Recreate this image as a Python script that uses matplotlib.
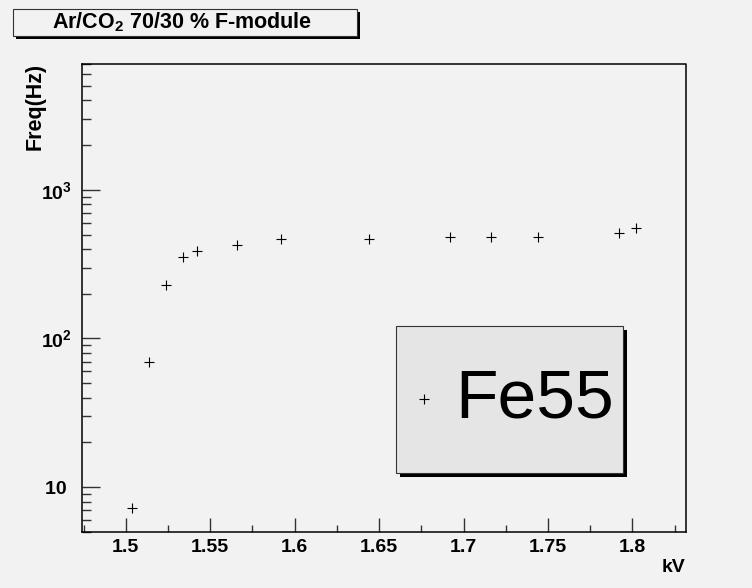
import numpy as np
import matplotlib
matplotlib.use('Agg')
import matplotlib.pyplot as plt
import matplotlib.ticker as mticker
from matplotlib.patches import Rectangle
from matplotlib.lines import Line2D

# Fe55 rate scan
kv = [1.504, 1.514, 1.524, 1.534, 1.542, 1.566, 1.592, 1.644,
      1.692, 1.716, 1.744, 1.792, 1.802]
freq = [7.2, 69, 228, 352, 386, 426, 465, 468,
        480, 480, 482, 513, 557]

title = r'Ar/CO$_2$ 70/30 % F-module'
legend_label = 'Fe55'
W, H = 752, 588
bg = '#f2f2f2'

matplotlib.rcParams['font.family'] = ['Liberation Sans', 'DejaVu Sans']
matplotlib.rcParams['mathtext.fontset'] = 'custom'
matplotlib.rcParams['mathtext.rm'] = 'Liberation Sans:bold'
matplotlib.rcParams['mathtext.bf'] = 'Liberation Sans:bold'
matplotlib.rcParams['mathtext.it'] = 'Liberation Sans:bold'
matplotlib.rcParams['mathtext.default'] = 'bf'


def fx(x):
    return x / W


def fy(y):
    return 1 - y / H


fig = plt.figure(figsize=(W / 100, H / 100), dpi=100, facecolor=bg)
ax = fig.add_axes([fx(82), fy(532), (686.3 - 82) / W, (532 - 63.5) / H])
ax.set_facecolor(bg)

ax.plot(kv, freq, linestyle='none', marker='+', color='black',
        markersize=6.5, markeredgewidth=0.8)

ax.set_yscale('log')
ax.set_xlim(1.4741, 1.8319)
ax.set_ylim(5.0, 7060)

ax.xaxis.set_major_locator(mticker.MultipleLocator(0.05))
ax.xaxis.set_minor_locator(mticker.MultipleLocator(0.025))
ax.xaxis.set_major_formatter(mticker.FormatStrFormatter('%g'))
ax.yaxis.set_major_locator(mticker.LogLocator(base=10))
ax.yaxis.set_minor_locator(mticker.LogLocator(base=10, subs=np.arange(2, 10)))
ax.yaxis.set_minor_formatter(mticker.NullFormatter())


def ylab(v, pos):
    e = int(round(np.log10(v)))
    if e == 1:
        return '10 '
    return r'$\mathbf{10^{%d}}$' % e


ax.yaxis.set_major_formatter(mticker.FuncFormatter(ylab))

for s in ax.spines.values():
    s.set_linewidth(1.1)
ax.spines['top'].set_visible(False)
ax.spines['right'].set_visible(False)
# ROOT draws a frame on top/right without ticks
ax.plot([0, 1, 1], [1, 1, 0], transform=ax.transAxes, color='black',
        lw=1.1, clip_on=False)

ax.tick_params(axis='both', which='both', direction='in', top=False, right=False,
               colors='#333333', labelcolor='black', labelsize=14)
ax.tick_params(axis='y', which='major', length=13, width=1.0, pad=7)
ax.tick_params(axis='y', which='minor', length=6.5, width=1.0)
ax.tick_params(axis='x', which='major', length=10, width=1.0, pad=5)
ax.tick_params(axis='x', which='minor', length=5, width=1.0)
for lab in ax.get_xticklabels() + ax.get_yticklabels():
    lab.set_fontweight('bold')

fig.text(fx(35), fy(63), 'Freq(Hz)', rotation=90, ha='center', va='top',
         fontsize=15.5, fontweight='bold')
fig.text(fx(685), fy(568), 'kV', ha='right', va='center',
         fontsize=14, fontweight='bold')

# title box with shadow
fig.add_artist(Rectangle((fx(16), fy(39)), (357 - 13) / W, (36 - 9) / H,
                         transform=fig.transFigure, facecolor='black',
                         edgecolor='none'))
fig.add_artist(Rectangle((fx(13), fy(36)), (357 - 13) / W, (36 - 9) / H,
                         transform=fig.transFigure, facecolor=bg,
                         edgecolor='#333333', lw=0.8))
fig.text(fx(182), fy(22), title, ha='center', va='center',
         fontsize=15.5, fontweight='bold')

# legend box with shadow
fig.add_artist(Rectangle((fx(400), fy(476.5)), (623 - 396) / W, (472.7 - 325.7) / H,
                         transform=fig.transFigure, facecolor='black',
                         edgecolor='none'))
fig.add_artist(Rectangle((fx(396), fy(472.7)), (623 - 396) / W, (472.7 - 325.7) / H,
                         transform=fig.transFigure, facecolor='#e5e5e5',
                         edgecolor='#333333', lw=0.8))
fig.add_artist(Line2D([fx(424.3)], [fy(399.3)], marker='+', color='black',
                      markersize=6.5, markeredgewidth=0.8,
                      transform=fig.transFigure))
fig.text(fx(455), fy(400), legend_label, ha='left', va='center', fontsize=50)

fig.savefig('out.png', dpi=100, facecolor=bg)
